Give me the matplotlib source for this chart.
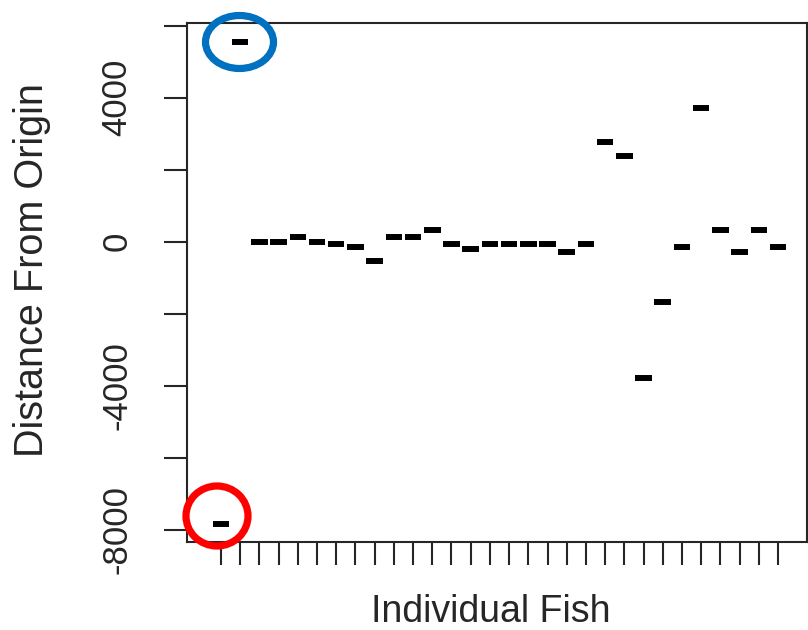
import matplotlib
matplotlib.use("Agg")
from matplotlib import pyplot as plt
from matplotlib.patches import Ellipse
import numpy as np

plt.rcParams['font.family'] = ['Liberation Sans', 'DejaVu Sans']

# one value per fish (median distance from origin)
fish = list(range(1, 31))
distance = [-7840, 5560, -20, -20, 140, 0, -72, -139, -536, 122,
            122, 325, -72, -203, -72, -72, -72, -72, -278, -72,
            2778, 2381, -3794, -1667, -139, 3706, 325, -278, 325, -139]
y_ticks = [-8000, -6000, -4000, -2000, 0, 2000, 4000, 6000]
y_labels = ['-8000', '', '-4000', '', '0', '', '4000', '']

W, H = 808, 630
fig = plt.figure(figsize=(W / 100, H / 100), dpi=100)
ax = fig.add_axes([187 / W, (H - 542) / H, (807 - 187) / W, (542 - 22.5) / H])

ink = '#262626'
x = np.array(fish)
ax.hlines(distance, x - 0.43, x + 0.43, color='black', lw=4.3, capstyle='butt')

ax.set_xlim(-0.77, 31.51)
ax.set_ylim(-8340, 6090)
ax.set_xticks(fish)
ax.set_xticklabels([])
ax.set_yticks(y_ticks)
ax.set_yticklabels(y_labels, rotation=90, va='center', fontsize=25, color=ink)
ax.tick_params(axis='both', length=16.5, width=1.5, color=ink, direction='out')
ax.tick_params(axis='y', pad=22)
for s in ax.spines.values():
    s.set_linewidth(1.5)
    s.set_color(ink)

fig.text(32 / W, 1 - 270 / H, 'Distance From Origin', rotation=90,
         ha='center', va='center', fontsize=28.5, color=ink)
fig.text(491 / W, 1 - 622 / H, 'Individual Fish',
         ha='center', va='baseline', fontsize=27, color=ink)

# highlight circles
fig.add_artist(Ellipse((217 / W, 1 - 516 / H), 62 / W, 60 / H, fill=False,
                       ec='#FF0000', lw=5.2, transform=fig.transFigure))
fig.add_artist(Ellipse((239.5 / W, 1 - 42 / H), 68 / W, 53 / H, fill=False,
                       ec='#0070C0', lw=5.2, transform=fig.transFigure))

fig.savefig('out.png', dpi=100)
